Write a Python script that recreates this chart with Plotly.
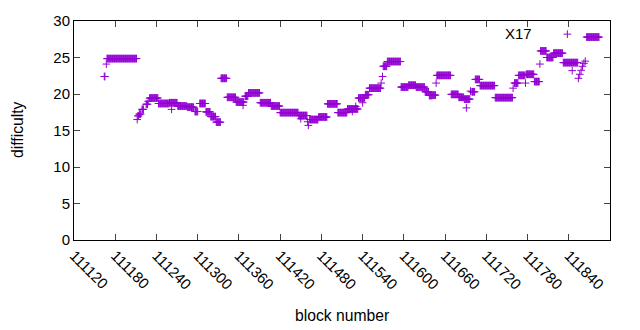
import plotly.graph_objects as go

# ---- data: runs of blocks with a constant difficulty ----
run_start = [111164, 111168, 111213, 111215, 111219, 111225, 111230, 111243, 111259,
             111271, 111285, 111296, 111303, 111312, 111319, 111327, 111334, 111343,
             111356, 111369, 111374, 111391, 111407, 111420, 111447, 111463, 111476,
             111489, 111504, 111518, 111534, 111544, 111550, 111570, 111576, 111596,
             111607, 111618, 111631, 111637, 111642, 111648, 111669, 111680, 111688,
             111699, 111704, 111711, 111733, 111761, 111767, 111778, 111790, 111799,
             111808, 111818, 111832, 111866]
run_end = [111165, 111211, 111214, 111217, 111221, 111227, 111242, 111258, 111270,
           111284, 111294, 111300, 111311, 111318, 111326, 111333, 111342, 111355,
           111367, 111373, 111390, 111406, 111419, 111446, 111459, 111475, 111488,
           111503, 111517, 111533, 111543, 111549, 111566, 111575, 111595, 111606,
           111617, 111630, 111636, 111641, 111646, 111668, 111679, 111687, 111696,
           111703, 111710, 111732, 111758, 111766, 111776, 111789, 111797, 111807,
           111817, 111831, 111853, 111884]
run_value = [22.4, 24.85, 17.0, 17.25, 17.9, 18.6, 19.45, 18.7, 18.8,
             18.35, 18.2, 17.6, 18.7, 17.55, 16.9, 16.15, 22.15, 19.55,
             18.9, 19.7, 20.15, 18.8, 18.35, 17.45, 17.05, 16.5, 16.85,
             18.65, 17.45, 17.95, 19.45, 19.9, 20.8, 23.8, 24.45, 20.95,
             21.2, 20.95, 20.3, 19.8, 19.85, 22.55, 19.95, 19.55, 19.3,
             20.3, 22.0, 21.15, 19.5, 21.5, 22.55, 22.7, 21.7, 25.9,
             25.0, 25.6, 24.3, 27.8]

# ---- isolated blocks ----
single_block = [111167, 111212, 111228, 111262, 111366, 111450, 111460, 111461,
                111525, 111530, 111540, 111567, 111569, 111647, 111691, 111697,
                111759, 111777, 111798, 111838, 111845, 111854, 111856, 111858,
                111860, 111862, 111864]
single_value = [24.1, 16.5, 19.0, 17.9, 18.45, 16.6, 16.2, 15.7,
                17.6, 18.3, 18.8, 21.5, 22.4, 21.5, 18.1, 20.4,
                20.8, 21.5, 24.1, 28.2, 23.2, 22.15, 22.7, 23.25,
                23.8, 24.2, 24.5]

x_ticks = [111120, 111180, 111240, 111300, 111360, 111420, 111480, 111540,
           111600, 111660, 111720, 111780, 111840, 111900]
y_ticks = [0, 5, 10, 15, 20, 25, 30]

label_text = "X17"
x_title = "block number"
y_title = "difficulty"

# ---- assemble points ----
xs, ys = [], []
for s, e, v in zip(run_start, run_end, run_value):
    for b in range(s, e + 1):
        xs.append(b)
        ys.append(v)
xs += single_block
ys += single_value

FONT = "Liberation Sans, Arial, sans-serif"
COLOR = "#9400d3"

fig = go.Figure()
fig.add_trace(go.Scatter(
    x=xs, y=ys, mode="markers",
    marker=dict(symbol="cross-thin", size=5.5, color=COLOR,
                line=dict(color=COLOR, width=1)),
))

txt = dict(family=FONT, size=15, color="#000")
fig.add_annotation(x=0.829, y=0.9425, xref="paper", yref="paper", text=label_text,
                   showarrow=False, font=txt, xanchor="center", yanchor="middle")
fig.add_annotation(x=0.5, y=0, xref="paper", yref="paper", text=x_title,
                   showarrow=False, font=dict(family=FONT, size=15.7, color="#000"),
                   xanchor="center", yanchor="middle", yshift=-75)
fig.add_annotation(x=0, y=0.5, xref="paper", yref="paper", text=y_title, textangle=-90,
                   showarrow=False, font=dict(family=FONT, size=15.7, color="#000"),
                   xanchor="center", yanchor="middle", xshift=-56.5, yshift=1)

base = dict(showline=True, linecolor="black", linewidth=1, mirror="ticks",
            ticks="inside", ticklen=6, showgrid=False, zeroline=False,
            tickfont=txt)
fig.update_xaxes(range=[111120, 111900], tickvals=x_ticks, tickformat="d",
                 tickangle=45, **base)
fig.update_yaxes(range=[0, 30], tickvals=y_ticks, **base)

fig.update_layout(width=640, height=330, showlegend=False,
                  margin=dict(l=74, r=30, t=19, b=90),
                  plot_bgcolor="white", font=txt)

fig.write_html("out.html", config={"displayModeBar": False},
               post_script="document.body.style.margin='0';")
